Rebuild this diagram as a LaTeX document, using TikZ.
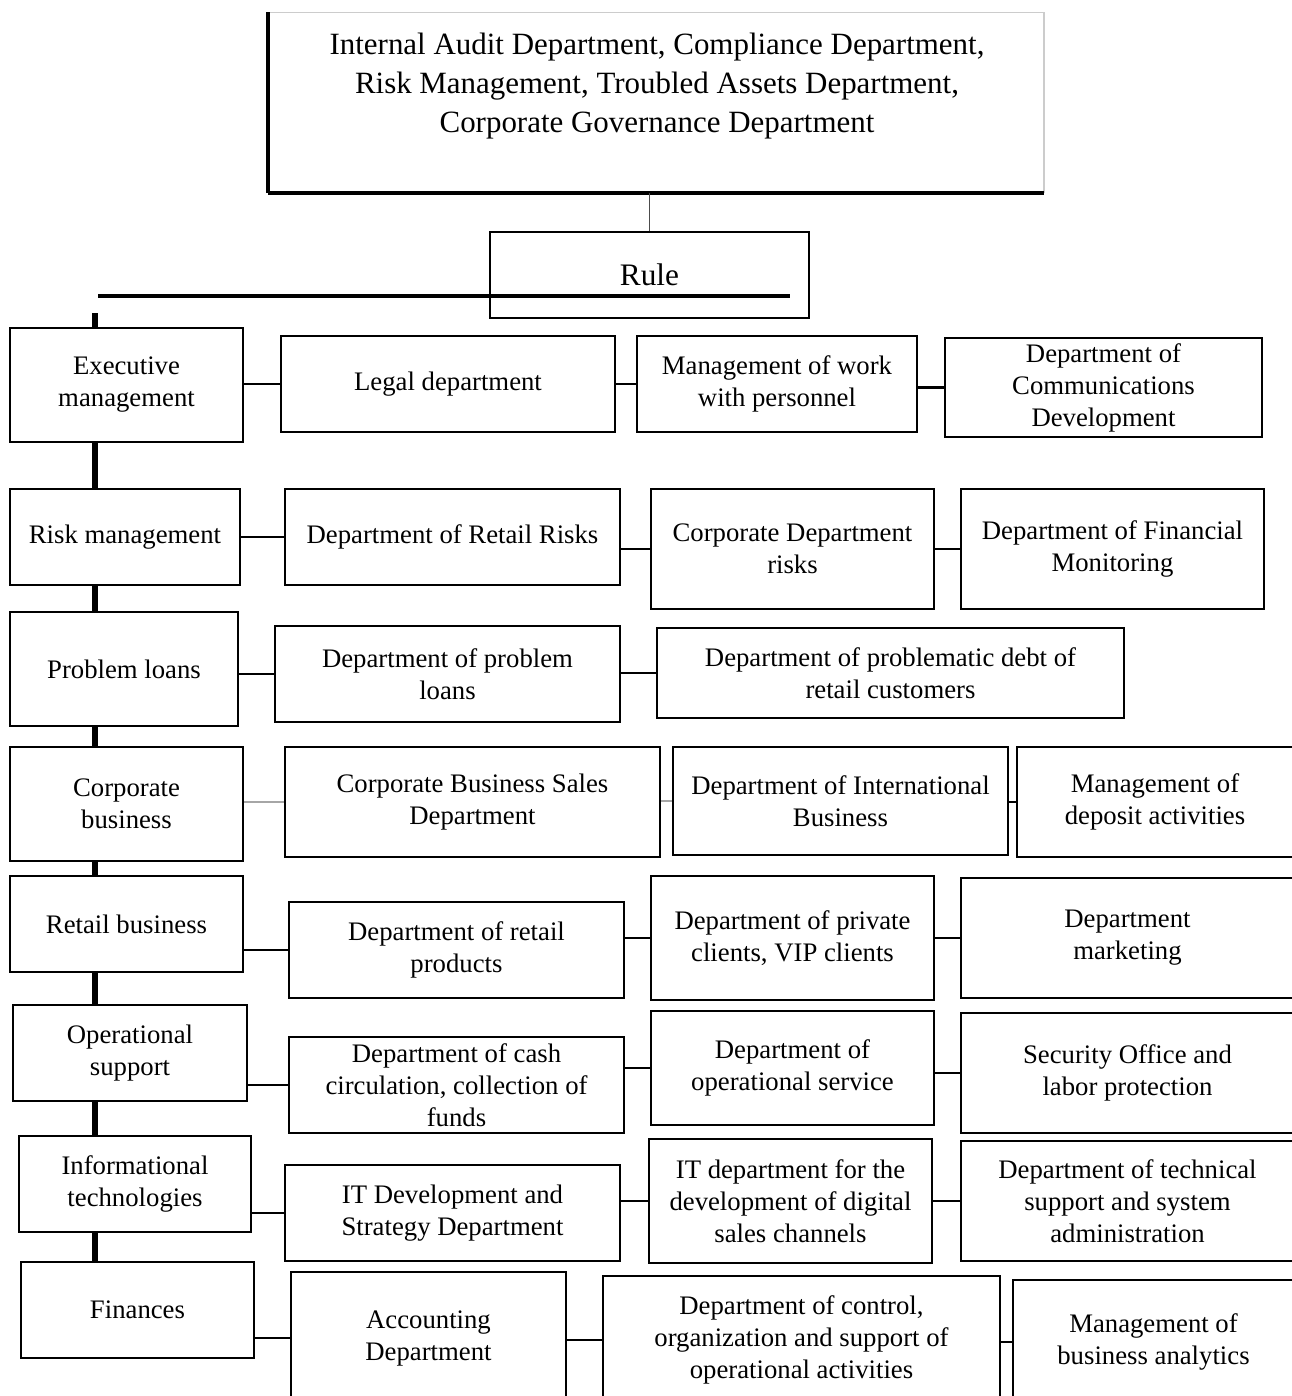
\documentclass[tikz,border=0pt]{standalone}
\usepackage{fontspec}
\setmainfont{Liberation Serif}
\tikzset{
  dept/.style={draw, rectangle, line width=0.6pt, align=center, inner sep=0pt, font=\fontsize{7.6}{9.1}\selectfont},
  link/.style={line width=0.8pt},
  greylink/.style={line width=0.8pt, draw=black!35},
  spine/.style={line width=1.6pt},
}
\begin{document}
\begin{tikzpicture}[x=0.01cm, y=-0.01cm]
\useasboundingbox (0,0) rectangle (1292,1396);
% head box and rule
\node (top) [rectangle, minimum width=7.74cm, minimum height=1.79cm] at (656,102.5) {};
\draw [black!20, line width=0.4pt] (top.south east) -- (top.north east) -- (top.north west);
\draw [line width=0.9pt] (top.north west) -- (top.south west);
\draw [line width=1.2pt] (top.south west) -- (top.south east);
\node (toptext) [align=center, font=\fontsize{8.8}{11.1}\selectfont] at (657,86) {Internal Audit Department, Compliance Department,\\Risk Management, Troubled Assets Department,\\Corporate Governance Department};
\node (rule) [dept, minimum width=3.19cm, minimum height=0.86cm, font=\fontsize{8.9}{10}\selectfont] at (649.5,275) {Rule};
\draw [black!70, line width=0.4pt] (rule.north) -- (rule.north |- top.south);
\coordinate (barleft) at (98,296);
\coordinate (barright) at (790,296);
\draw [line width=1.1pt] (barleft) -- (barright);
% row 1
\node (exec) [dept, minimum width=2.33cm, minimum height=1.14cm] at (126.5,385) {Executive\\management};
\node (legal) [dept, minimum width=3.34cm, minimum height=0.96cm] at (448,384) {Legal department};
\node (personnel) [dept, minimum width=2.80cm, minimum height=0.96cm] at (777,384) {Management of work\\with personnel};
\node (comm) [dept, minimum width=3.17cm, minimum height=0.99cm] at (1103.5,387.5) {Department of\\Communications\\Development};
% row 2
\node (risk) [dept, minimum width=2.30cm, minimum height=0.96cm] at (125,537) {Risk management};
\node (retailrisks) [dept, minimum width=3.35cm, minimum height=0.96cm] at (452.5,537) {Department of Retail Risks};
\node (corprisks) [dept, minimum width=2.83cm, minimum height=1.20cm] at (792.5,549) {Corporate Department\\risks};
\node (finmon) [dept, minimum width=3.03cm, minimum height=1.20cm] at (1112.5,549) {Department of Financial\\Monitoring};
% row 3
\node (problem) [dept, minimum width=2.28cm, minimum height=1.14cm] at (124,669) {Problem loans};
\node (probdept) [dept, minimum width=3.45cm, minimum height=0.96cm] at (447.5,674) {Department of problem\\loans};
\node (probdebt) [dept, minimum width=4.67cm, minimum height=0.90cm] at (890.5,673) {Department of problematic debt of\\retail customers};
% row 4
\node (corp) [dept, minimum width=2.33cm, minimum height=1.14cm] at (126.5,804) {Corporate\\business};
\node (corpsales) [dept, minimum width=3.75cm, minimum height=1.10cm] at (472.5,802) {Corporate Business Sales\\Department};
\node (intl) [dept, minimum width=3.35cm, minimum height=1.08cm] at (840.5,801) {Department of International\\Business};
\node (deposit) [dept, minimum width=2.76cm, minimum height=1.10cm] at (1155,802) {Management of\\deposit activities};
% row 5
\node (retail) [dept, minimum width=2.33cm, minimum height=0.96cm] at (126.5,924) {Retail business};
\node (retailprod) [dept, minimum width=3.35cm, minimum height=0.96cm] at (456.5,950) {Department of retail\\products};
\node (private) [dept, minimum width=2.83cm, minimum height=1.24cm] at (792.5,938) {Department of private\\clients, VIP clients};
\node (marketing) [dept, minimum width=3.33cm, minimum height=1.20cm] at (1127.5,938) {Department\\marketing};
% row 6
\node (ops) [dept, minimum width=2.34cm, minimum height=0.96cm] at (130,1053) {Operational\\support};
\node (cash) [dept, minimum width=3.35cm, minimum height=0.96cm] at (456.5,1085) {Department of cash\\circulation, collection of\\funds};
\node (opservice) [dept, minimum width=2.83cm, minimum height=1.14cm] at (792.5,1068) {Department of\\operational service};
\node (security) [dept, minimum width=3.33cm, minimum height=1.20cm] at (1127.5,1073) {Security Office and\\labor protection};
% row 7
\node (it) [dept, minimum width=2.32cm, minimum height=0.96cm] at (135,1184) {Informational\\technologies};
\node (itdev) [dept, minimum width=3.35cm, minimum height=0.96cm] at (452.5,1213) {IT Development and\\Strategy Department};
\node (digital) [dept, minimum width=2.83cm, minimum height=1.24cm] at (790.5,1201) {IT department for the\\development of digital\\sales channels};
\node (techsupport) [dept, minimum width=3.33cm, minimum height=1.20cm] at (1127.5,1201) {Department of technical\\support and system\\administration};
% row 8
\node (finances) [dept, minimum width=2.33cm, minimum height=0.96cm] at (137.5,1310) {Finances};
\node (accounting) [dept, minimum width=2.75cm, minimum height=1.32cm] at (428.5,1338) {Accounting\\Department};
\node (control) [dept, minimum width=3.97cm, minimum height=1.28cm] at (801.5,1340) {Department of control,\\organization and support of\\operational activities};
\node (analytics) [dept, minimum width=2.81cm, minimum height=1.24cm] at (1153.5,1342) {Management of\\business analytics};
% spine
\coordinate (spinetop) at (95,313);
\draw [spine] (spinetop) -- (spinetop |- exec.north);
\foreach \a/\b in {exec/risk, risk/problem, problem/corp, corp/retail, retail/ops, ops/it, it/finances}
  \draw [spine] (spinetop |- \a.south) -- (spinetop |- \b.north);
% links
\foreach \a/\b in {exec/legal, legal/personnel, personnel/comm, risk/retailrisks, retailrisks/corprisks, corprisks/finmon, problem/probdept, probdept/probdebt, intl/deposit, retail/retailprod, retailprod/private, private/marketing, ops/cash, cash/opservice, opservice/security, it/itdev, itdev/digital, digital/techsupport, finances/accounting, accounting/control, control/analytics}
  \draw [link] (\a.east |- \b.west) -- (\b.west);
\foreach \a/\b in {corp/corpsales, corpsales/intl}
  \draw [greylink] (\a.east |- \b.west) -- (\b.west);
\end{tikzpicture}
\end{document}
